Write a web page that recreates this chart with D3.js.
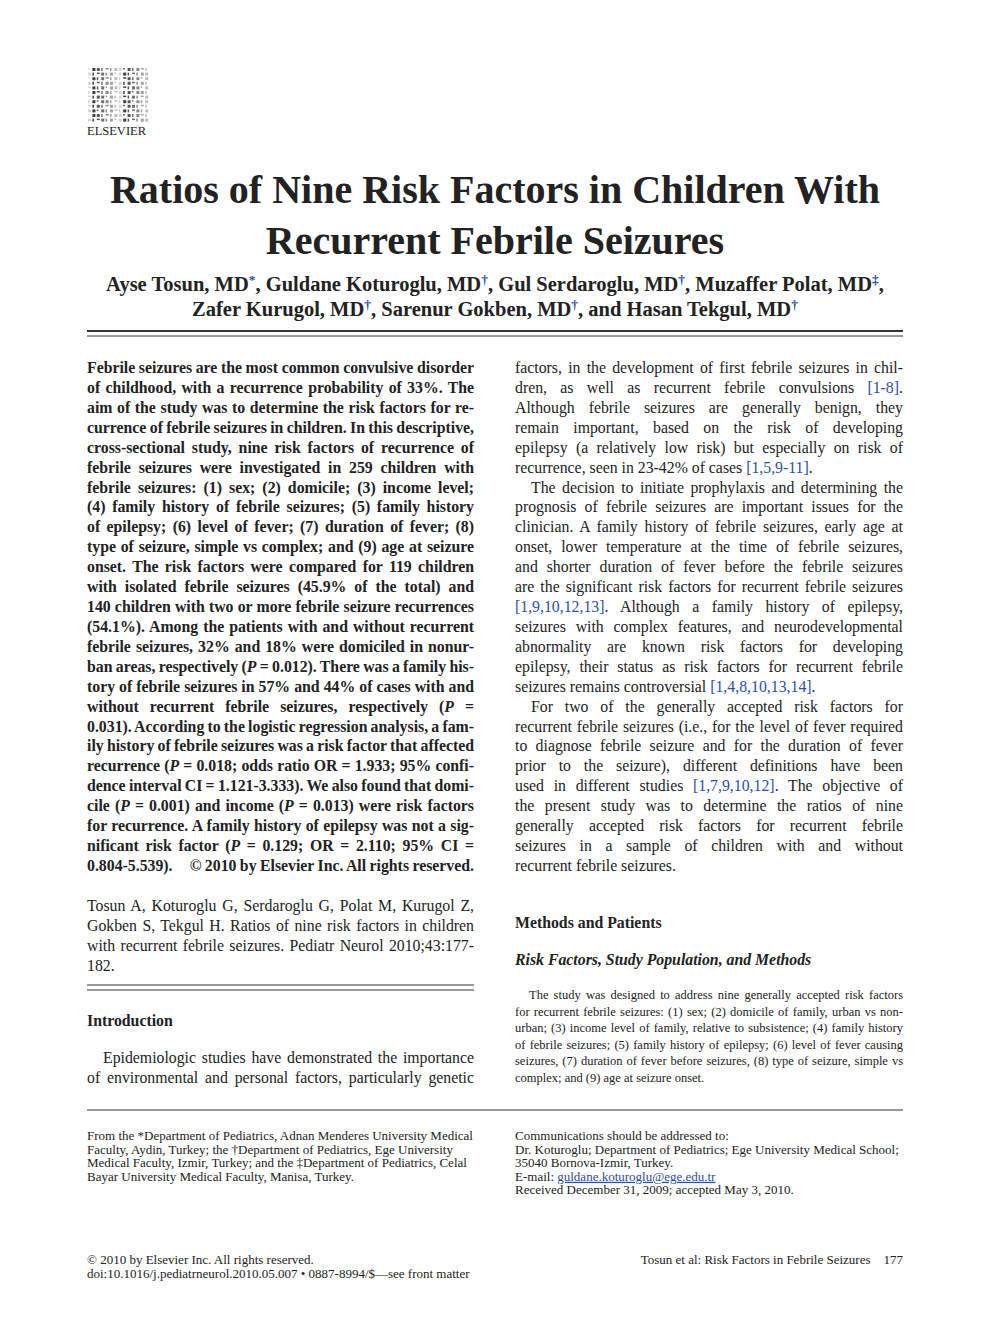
<!DOCTYPE html>
<html><head><meta charset="utf-8">
<script src="https://cdn.jsdelivr.net/npm/d3@7"></script>
<style>body{margin:0;background:#fff}</style></head>
<body><svg id="p" width="990" height="1320"></svg>
<script>
const titleLines=["Ratios of Nine Risk Factors in Children With","Recurrent Febrile Seizures"];
const authorLines=[
 [["Ayse Tosun, MD"],["*","sup"],[", Guldane Koturoglu, MD"],["†","sup"],[", Gul Serdaroglu, MD"],["†","sup"],[", Muzaffer Polat, MD"],["‡","sup"],[","]],
 [["Zafer Kurugol, MD"],["†","sup"],[", Sarenur Gokben, MD"],["†","sup"],[", and Hasan Tekgul, MD"],["†","sup"]]
];
// "|" toggles italic, "^" toggles blue; trailing "#" = last line of paragraph (not justified); leading "~" = indent
const abstractLines=[
"Febrile seizures are the most common convulsive disorder",
"of childhood, with a recurrence probability of 33%. The",
"aim of the study was to determine the risk factors for re-",
"currence of febrile seizures in children. In this descriptive,",
"cross-sectional study, nine risk factors of recurrence of",
"febrile seizures were investigated in 259 children with",
"febrile seizures: (1) sex; (2) domicile; (3) income level;",
"(4) family history of febrile seizures; (5) family history",
"of epilepsy; (6) level of fever; (7) duration of fever; (8)",
"type of seizure, simple vs complex; and (9) age at seizure",
"onset. The risk factors were compared for 119 children",
"with isolated febrile seizures (45.9% of the total) and",
"140 children with two or more febrile seizure recurrences",
"(54.1%). Among the patients with and without recurrent",
"febrile seizures, 32% and 18% were domiciled in nonur-",
"ban areas, respectively (|P| = 0.012). There was a family his-",
"tory of febrile seizures in 57% and 44% of cases with and",
"without recurrent febrile seizures, respectively (|P| =",
"0.031). According to the logistic regression analysis, a fam-",
"ily history of febrile seizures was a risk factor that affected",
"recurrence (|P| = 0.018; odds ratio OR = 1.933; 95% confi-",
"dence interval CI = 1.121-3.333). We also found that domi-",
"cile (|P| = 0.001) and income (|P| = 0.013) were risk factors",
"for recurrence. A family history of epilepsy was not a sig-",
"nificant risk factor (|P| = 0.129; OR = 2.110; 95% CI =",
"0.804-5.539).     © 2010 by Elsevier Inc. All rights reserved."];
const citationLines=[
"Tosun A, Koturoglu G, Serdaroglu G, Polat M, Kurugol Z,",
"Gokben S, Tekgul H. Ratios of nine risk factors in children",
"with recurrent febrile seizures. Pediatr Neurol 2010;43:177-",
"182.#"];
const introLines=[
"~Epidemiologic studies have demonstrated the importance",
"of environmental and personal factors, particularly genetic"];
const rightLines=[
"factors, in the development of first febrile seizures in chil-",
"dren, as well as recurrent febrile convulsions ^[1-8]^.",
"Although febrile seizures are generally benign, they",
"remain important, based on the risk of developing",
"epilepsy (a relatively low risk) but especially on risk of",
"recurrence, seen in 23-42% of cases ^[1,5,9-11]^.#",
"~The decision to initiate prophylaxis and determining the",
"prognosis of febrile seizures are important issues for the",
"clinician. A family history of febrile seizures, early age at",
"onset, lower temperature at the time of febrile seizures,",
"and shorter duration of fever before the febrile seizures",
"are the significant risk factors for recurrent febrile seizures",
"^[1,9,10,12,13]^. Although a family history of epilepsy,",
"seizures with complex features, and neurodevelopmental",
"abnormality are known risk factors for developing",
"epilepsy, their status as risk factors for recurrent febrile",
"seizures remains controversial ^[1,4,8,10,13,14]^.#",
"~For two of the generally accepted risk factors for",
"recurrent febrile seizures (i.e., for the level of fever required",
"to diagnose febrile seizure and for the duration of fever",
"prior to the seizure), different definitions have been",
"used in different studies ^[1,7,9,10,12]^. The objective of",
"the present study was to determine the ratios of nine",
"generally accepted risk factors for recurrent febrile",
"seizures in a sample of children with and without",
"recurrent febrile seizures.#"];
const methodsLines=[
"~The study was designed to address nine generally accepted risk factors",
"for recurrent febrile seizures: (1) sex; (2) domicile of family, urban vs non-",
"urban; (3) income level of family, relative to subsistence; (4) family history",
"of febrile seizures; (5) family history of epilepsy; (6) level of fever causing",
"seizures, (7) duration of fever before seizures, (8) type of seizure, simple vs",
"complex; and (9) age at seizure onset.#"];
const footLeft=[
"From the *Department of Pediatrics, Adnan Menderes University Medical",
"Faculty, Aydin, Turkey; the †Department of Pediatrics, Ege University",
"Medical Faculty, Izmir, Turkey; and the ‡Department of Pediatrics, Celal",
"Bayar University Medical Faculty, Manisa, Turkey."];
const footRight=[
"Communications should be addressed to:",
"Dr. Koturoglu; Department of Pediatrics; Ege University Medical School;",
"35040 Bornova-Izmir, Turkey.",
"E-mail: ^guldane.koturoglu@ege.edu.tr^",
"Received December 31, 2009; accepted May 3, 2010."];

const svg=d3.select("#p");
const F="'Liberation Serif','Times New Roman',serif";
svg.append("rect").attr("width",990).attr("height",1320).attr("fill","#fff");

function block(lines,x,y0,w,lh,size,opts={}){
  lines.forEach((raw,i)=>{
    let s=raw,last=false,indent=0;
    if(s.endsWith("#")){last=true;s=s.slice(0,-1);}
    if(s.startsWith("~")){indent=opts.indent||16;s=s.slice(1);}
    const t=svg.append("text").attr("x",x+indent).attr("y",y0+i*lh)
      .attr("font-family",F).attr("font-size",size).attr("fill","#222")
      .attr("font-weight",opts.bold?"bold":"normal").attr("xml:space","preserve");
    let it=false,bl=false,buf="";
    const flush=()=>{if(buf){const ts=t.append("tspan").text(buf);
      if(it)ts.attr("font-style","italic");if(bl)ts.attr("fill","#2a4fa8").attr("text-decoration",opts.underline?"underline":null);}buf="";};
    for(const c of s){if(c==="|"){flush();it=!it;}else if(c==="^"){flush();bl=!bl;}else buf+=c;}
    flush();
    if(opts.justify && !last){
      const len=t.node().getComputedTextLength();
      const n=(s.match(/ /g)||[]).length;
      if(n>0){const ws=(w-indent-len)/n;
        if(ws>-2) t.attr("word-spacing",ws); else t.attr("textLength",w-indent).attr("lengthAdjust","spacingAndGlyphs");}
    }
  });
}

// logo
const lg=svg.append("g");
const logoRects=d3.range(0,14*12);
lg.selectAll("rect").data(logoRects).join("rect")
  .attr("x",d=>88+(d%14)*4.4).attr("y",d=>68+Math.floor(d/14)*4.6)
  .attr("width",d=>((d*7)%5)>1?3:1.5).attr("height",d=>((d*3)%4)>0?3:1.5)
  .attr("fill","#333").attr("opacity",d=>((d*13)%7)/8+0.2);
svg.append("text").attr("x",87).attr("y",135).attr("font-family",F).attr("font-size",12.5).attr("fill","#222").text("ELSEVIER");

// title
titleLines.forEach((l,i)=>svg.append("text").attr("x",495).attr("y",190+13+i*51).attr("text-anchor","middle")
 .attr("font-family",F).attr("font-weight","bold").attr("font-size",40).attr("fill","#222").text(l));
authorLines.forEach((segs,i)=>{
  const t=svg.append("text").attr("x",495).attr("y",291+i*25).attr("text-anchor","middle")
   .attr("font-family",F).attr("font-weight","bold").attr("font-size",20.5).attr("fill","#222");
  segs.forEach(([s,k])=>{const ts=t.append("tspan").text(s);
    if(k==="sup")ts.attr("baseline-shift","super").attr("font-size",13.5).attr("fill","#2a4fa8");});
});
svg.append("line").attr("x1",87).attr("x2",903).attr("y1",331).attr("y2",331).attr("stroke","#333").attr("stroke-width",2);
svg.append("line").attr("x1",87).attr("x2",903).attr("y1",336).attr("y2",336).attr("stroke","#333").attr("stroke-width",1);

const BS=15.8;
block(abstractLines,87,373,387,19.92,BS,{bold:true,justify:true});
block(citationLines,87,911,387,19.92,BS,{justify:true});
svg.append("line").attr("x1",87).attr("x2",474).attr("y1",985).attr("y2",985).attr("stroke","#333").attr("stroke-width",1);
svg.append("line").attr("x1",87).attr("x2",474).attr("y1",990).attr("y2",990).attr("stroke","#333").attr("stroke-width",1);
svg.append("text").attr("x",87).attr("y",1026).attr("font-family",F).attr("font-weight","bold").attr("font-size",BS).attr("fill","#222").text("Introduction");
block(introLines,87,1063,387,19.92,BS,{justify:true,indent:16});

block(rightLines,515,373,388,19.92,BS,{justify:true,indent:16});
svg.append("text").attr("x",515).attr("y",928).attr("font-family",F).attr("font-weight","bold").attr("font-size",BS).attr("fill","#222").text("Methods and Patients");
svg.append("text").attr("x",515).attr("y",965).attr("font-family",F).attr("font-weight","bold").attr("font-style","italic").attr("font-size",BS).attr("fill","#222").text("Risk Factors, Study Population, and Methods");
block(methodsLines,515,999,388,16.6,12.5,{justify:true,indent:14});

svg.append("line").attr("x1",87).attr("x2",903).attr("y1",1110).attr("y2",1110).attr("stroke","#333").attr("stroke-width",1);
block(footLeft,87,1140,387,13.6,13,{});
block(footRight,515,1140,388,13.6,13,{underline:true});

svg.append("text").attr("x",87).attr("y",1264).attr("font-family",F).attr("font-size",13).attr("fill","#222").text("© 2010 by Elsevier Inc. All rights reserved.");
svg.append("text").attr("x",87).attr("y",1278).attr("font-family",F).attr("font-size",13).attr("fill","#222").text("doi:10.1016/j.pediatrneurol.2010.05.007 • 0887-8994/$—see front matter");
svg.append("text").attr("x",903).attr("y",1264).attr("text-anchor","end").attr("font-family",F).attr("font-size",13).attr("fill","#222").attr("xml:space","preserve").text("Tosun et al: Risk Factors in Febrile Seizures    177");
</script></body></html>
